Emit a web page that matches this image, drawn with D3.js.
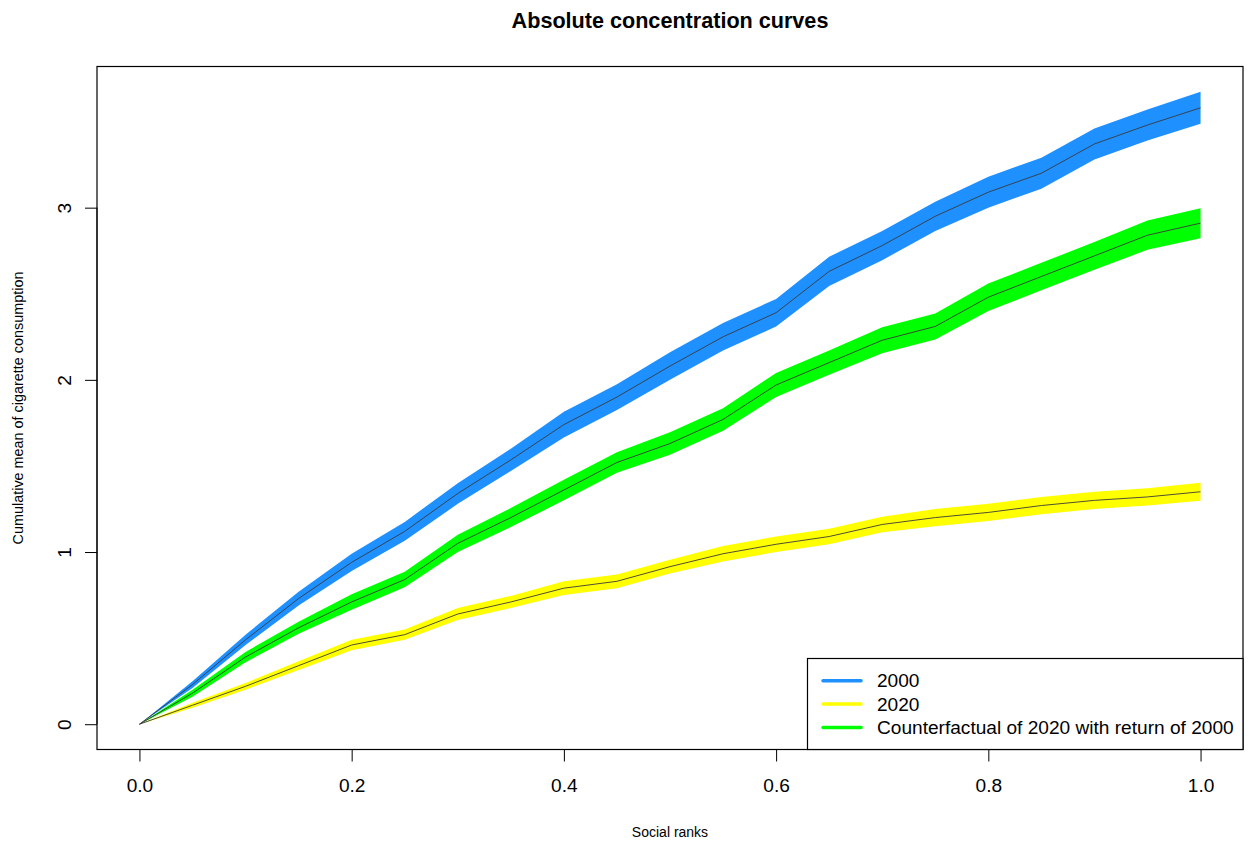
<!DOCTYPE html>
<html>
<head>
<meta charset="utf-8">
<script src="https://cdn.jsdelivr.net/npm/d3@7"></script>
<style>
  body { margin: 0; background: #fff; }
  svg { font-family: "Liberation Sans", Arial, Helvetica, sans-serif; }
</style>
</head>
<body>
<div id="graf"></div>
<script>
// social ranks (x) and cumulative means (centre line) with half-width of the band
const ranks = [0, 0.05, 0.1, 0.15, 0.2, 0.25, 0.3, 0.35, 0.4, 0.45, 0.5, 0.55, 0.6, 0.65, 0.7, 0.75, 0.8, 0.85, 0.9, 0.95, 1]

const mean2000 = [0, 0.23, 0.49, 0.73, 0.94, 1.12, 1.34, 1.535, 1.74, 1.9, 2.08, 2.25, 2.39, 2.63, 2.78, 2.95, 3.09, 3.2, 3.37, 3.48, 3.58]
const band2000 = [0, 0.02, 0.03, 0.04, 0.05, 0.055, 0.06, 0.065, 0.075, 0.075, 0.08, 0.08, 0.08, 0.085, 0.085, 0.085, 0.09, 0.09, 0.09, 0.09, 0.093]

const mean2020 = [0, 0.11, 0.22, 0.34, 0.46, 0.52, 0.64, 0.71, 0.79, 0.83, 0.915, 0.99, 1.045, 1.09, 1.16, 1.2, 1.23, 1.27, 1.3, 1.32, 1.35]
const band2020 = [0, 0.015, 0.02, 0.025, 0.03, 0.03, 0.035, 0.035, 0.04, 0.04, 0.04, 0.045, 0.045, 0.045, 0.045, 0.05, 0.05, 0.05, 0.05, 0.05, 0.052]

const meanCf = [0, 0.18, 0.39, 0.56, 0.71, 0.84, 1.05, 1.2, 1.36, 1.52, 1.63, 1.77, 1.97, 2.1, 2.23, 2.31, 2.48, 2.6, 2.72, 2.84, 2.91]
const bandCf = [0, 0.02, 0.03, 0.035, 0.045, 0.045, 0.05, 0.055, 0.06, 0.06, 0.065, 0.065, 0.07, 0.07, 0.075, 0.075, 0.08, 0.08, 0.08, 0.085, 0.087]

const seriesNames = ['2000', '2020', 'Counterfactual of 2020 with return of 2000']
const seriesColors = ['#1e90ff', '#ffff00', '#00ff00']

const xTicks = [0, 0.2, 0.4, 0.6, 0.8, 1]
const yTicks = [0, 1, 2, 3]

const anchoTotal = 1250
const altoTotal = 844

// plot box like R's default (4% padding on both axes)
const box = { left: 97, right: 1243, top: 66.5, bottom: 749.5 }

const svg = d3.select('#graf')
  .append('svg')
  .attr('width', anchoTotal)
  .attr('height', altoTotal)

const series = seriesNames.map((name, i) => {
  const m = [mean2000, mean2020, meanCf][i]
  const b = [band2000, band2020, bandCf][i]
  return {
    name,
    color: seriesColors[i],
    values: ranks.map((r, j) => ({ r, m: m[j], lo: m[j] - b[j], hi: m[j] + b[j] })),
  }
})

const xMin = d3.min(ranks), xMax = d3.max(ranks)
const yMin = 0
const yMax = d3.max(series, s => d3.max(s.values, d => d.hi))
const xPad = 0.04 * (xMax - xMin)
const yPad = 0.04 * (yMax - yMin)

const x = d3.scaleLinear()
  .domain([xMin - xPad, xMax + xPad])
  .range([box.left, box.right])

const y = d3.scaleLinear()
  .domain([yMin - yPad, yMax + yPad])
  .range([box.bottom, box.top])

const area = d3.area()
  .x(d => x(d.r))
  .y0(d => y(d.lo))
  .y1(d => y(d.hi))

const line = d3.line()
  .x(d => x(d.r))
  .y(d => y(d.m))

// bands
svg.append('g')
  .selectAll('path')
  .data(series)
  .enter()
  .append('path')
  .attr('d', d => area(d.values))
  .attr('fill', d => d.color)

// centre lines
svg.append('g')
  .selectAll('path')
  .data(series)
  .enter()
  .append('path')
  .attr('d', d => line(d.values))
  .attr('fill', 'none')
  .attr('stroke', '#3a3a3a')
  .attr('stroke-width', 0.9)

// axes
const tickFont = '19.1px'

const xAxisGroup = svg.append('g')
  .attr('transform', `translate(0, ${box.bottom})`)
  .call(
    d3.axisBottom(x)
      .tickValues(xTicks)
      .tickFormat(d3.format('.1f'))
      .tickSize(12)
      .tickSizeOuter(0)
  )
xAxisGroup.select('.domain').remove()
xAxisGroup.selectAll('line').attr('stroke', '#000')
xAxisGroup.selectAll('text')
  .attr('y', 36)
  .attr('dy', '0.35em')
  .attr('fill', '#000')
  .style('font-size', tickFont)
  .style('font-family', '"Liberation Sans", Arial, sans-serif')
xAxisGroup.append('line')
  .attr('x1', x(xTicks[0]))
  .attr('x2', x(xTicks[xTicks.length - 1]))
  .attr('stroke', '#000')

const yAxisGroup = svg.append('g')
  .attr('transform', `translate(${box.left}, 0)`)
  .call(
    d3.axisLeft(y)
      .tickValues(yTicks)
      .tickFormat(d3.format('d'))
      .tickSize(12)
      .tickSizeOuter(0)
  )
yAxisGroup.select('.domain').remove()
yAxisGroup.selectAll('line').attr('stroke', '#000')
yAxisGroup.selectAll('text')
  .attr('x', 0)
  .attr('y', -33)
  .attr('dy', '0.35em')
  .attr('transform', 'rotate(-90)')
  .attr('text-anchor', 'middle')
  .attr('fill', '#000')
  .style('font-size', tickFont)
  .style('font-family', '"Liberation Sans", Arial, sans-serif')
yAxisGroup.append('line')
  .attr('y1', y(yTicks[0]))
  .attr('y2', y(yTicks[yTicks.length - 1]))
  .attr('stroke', '#000')

// plot box
svg.append('rect')
  .attr('x', box.left)
  .attr('y', box.top)
  .attr('width', box.right - box.left)
  .attr('height', box.bottom - box.top)
  .attr('fill', 'none')
  .attr('stroke', '#000')
  .attr('stroke-width', 1.2)

// titles
svg.append('text')
  .attr('x', (box.left + box.right) / 2)
  .attr('y', 28)
  .attr('text-anchor', 'middle')
  .style('font-size', '21.6px')
  .style('font-weight', 'bold')
  .text('Absolute concentration curves')

svg.append('text')
  .attr('x', (box.left + box.right) / 2)
  .attr('y', 837)
  .attr('text-anchor', 'middle')
  .style('font-size', '14px')
  .text('Social ranks')

svg.append('text')
  .attr('transform', `translate(23, ${(box.top + box.bottom) / 2}) rotate(-90)`)
  .attr('text-anchor', 'middle')
  .style('font-size', '14.4px')
  .text('Cumulative mean of cigarette consumption')

// legend
const legend = svg.append('g')
legend.append('rect')
  .attr('x', 807.5)
  .attr('y', 658.5)
  .attr('width', box.right - 807.5)
  .attr('height', box.bottom - 658.5)
  .attr('fill', '#fff')
  .attr('stroke', '#000')
  .attr('stroke-width', 1.2)

const item = legend.selectAll('g.item')
  .data(series)
  .enter()
  .append('g')
  .attr('class', 'item')
  .attr('transform', (d, i) => `translate(0, ${680.8 + i * 23.3})`)

item.append('line')
  .attr('x1', 823)
  .attr('x2', 861)
  .attr('stroke', d => d.color)
  .attr('stroke-width', 3.5)
  .attr('stroke-linecap', 'round')

item.append('text')
  .attr('x', 877)
  .attr('dy', '0.35em')
  .style('font-size', tickFont)
  .text(d => d.name)
</script>
</body>
</html>
